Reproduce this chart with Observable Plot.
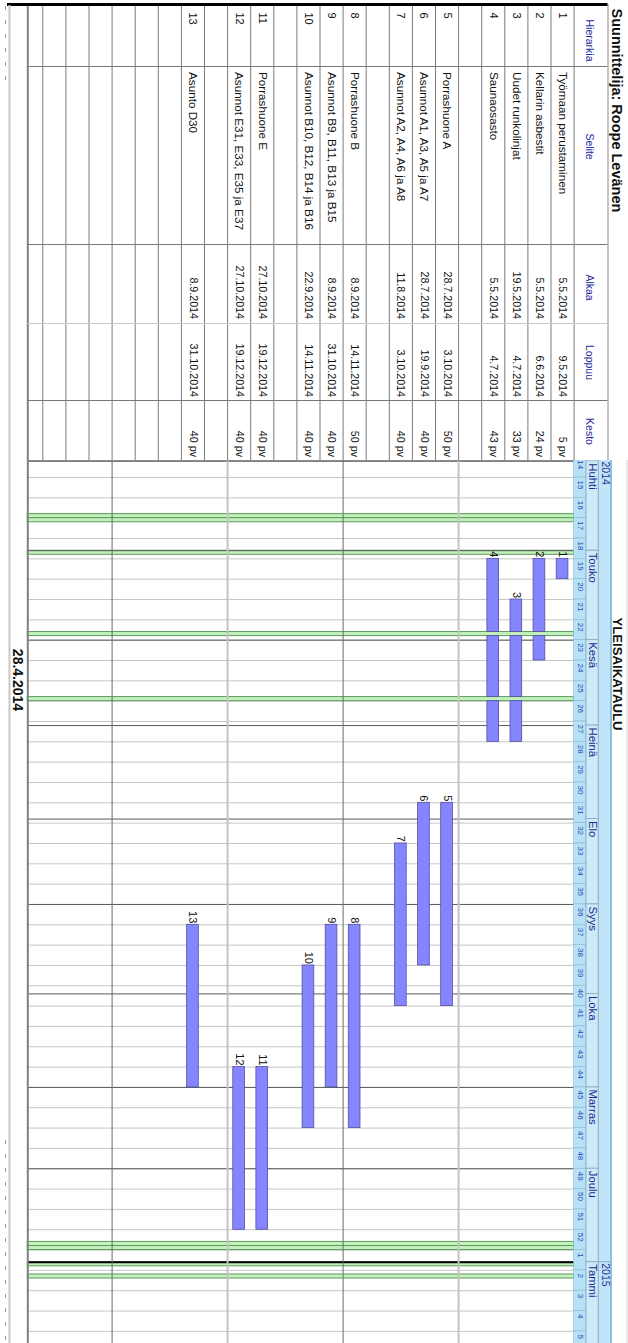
<!DOCTYPE html>
<html><head><meta charset="utf-8">
<script src="https://cdn.jsdelivr.net/npm/d3@7"></script>
<script src="https://cdn.jsdelivr.net/npm/@observablehq/plot@0.6"></script>
<style>
html,body{margin:0;padding:0;background:#fff;}
#page{position:relative;width:628px;height:1343px;overflow:hidden;background:#fff;}
#page svg{display:block;}
</style></head><body><div id="page"></div>
<script>
// ---------- data ----------
const hierarchy = ["1","2","3","4","5","6","7","8","9","10","11","12","13"];
const descriptions = ["Työmaan perustaminen","Kellarin asbestit","Uudet runkolinjat","Saunaosasto",
  "Porrashuone A","Asunnot A1, A3, A5 ja A7","Asunnot A2, A4, A6 ja A8",
  "Porrashuone B","Asunnot B9, B11, B13 ja B15","Asunnot B10, B12, B14 ja B16",
  "Porrashuone E","Asunnot E31, E33, E35 ja E37","Asunto D30"];
const startDates = ["5.5.2014","5.5.2014","19.5.2014","5.5.2014","28.7.2014","28.7.2014","11.8.2014",
  "8.9.2014","8.9.2014","22.9.2014","27.10.2014","27.10.2014","8.9.2014"];
const endDates = ["9.5.2014","6.6.2014","4.7.2014","4.7.2014","3.10.2014","19.9.2014","3.10.2014",
  "14.11.2014","31.10.2014","14.11.2014","19.12.2014","19.12.2014","31.10.2014"];
const durations = [5,24,33,43,50,40,40,50,40,40,40,40,40];
const rowLayout = ["1","2","3","4",null,"5","6","7",null,"8","9","10",null,"11","12",null,"13"];
const holidays = ["18.4.2014","21.4.2014","1.5.2014","29.5.2014","20.6.2014","25.12.2014","26.12.2014","1.1.2015","6.1.2015"];
const weekLabels = ["14","15","16","17","18","19","20","21","22","23","24","25","26","27","28","29","30",
  "31","32","33","34","35","36","37","38","39","40","41","42","43","44","45","46","47","48","49","50",
  "51","52","1","2","3","4","5"];
const monthNames = ["Huhti","Touko","Kesä","Heinä","Elo","Syys","Loka","Marras","Joulu","Tammi"];
const monthStarts = ["1.4.2014","1.5.2014","1.6.2014","1.7.2014","1.8.2014","1.9.2014","1.10.2014",
  "1.11.2014","1.12.2014","1.1.2015"];
const yearLabels = ["2014","2015"];
const yearStarts = ["1.1.2014","1.1.2015"];
const columnHeaders = ["Hierarkia","Selite","Alkaa","Loppuu","Kesto"];
const designer = "Suunnittelija: Roope Levänen";
const chartTitle = "YLEISAIKATAULU";
const printDate = "28.4.2014";
const timelineStart = "31.3.2014";

// ---------- working-day time axis ----------
const DAY = 864e5;
const parse = s => { const [d, m, y] = s.split(".").map(Number); return Date.UTC(y, m - 1, d); };
const T0 = parse(timelineStart);
const wd = s => { const days = Math.round((parse(s) - T0) / DAY); const w = Math.floor(days / 7); return w * 5 + Math.min(days - 7 * w, 5); };

// ---------- layout ----------
const W = 628, H = 1343, TABLE_H = 460;
const ROW0 = 573.6, ROWH = 23.1;
const rowOf = px => (ROW0 - px) / ROWH;
const LEFT = rowOf(27.3);
const HEAD_TOP = rowOf(607.5);
const HDR = [0, rowOf(586), rowOf(598.3), rowOf(610.7)];
const T0PX = 456.7, DAYPX = 20.33 / 5;
const topWd = (TABLE_H - T0PX) / DAYPX;
const xScale = {domain: [0, 1], range: [ROW0, ROW0 - ROWH], axis: null};
const FONT = "'Liberation Sans', Arial, Helvetica, sans-serif";
const style = {background: "white", fontFamily: FONT, overflow: "hidden"};

// ---------- derived ----------
const tasks = hierarchy.map((h, k) => ({
  id: h, desc: descriptions[k], start: startDates[k], end: endDates[k], dur: durations[k] + " pv",
  slot: rowLayout.indexOf(h), s: wd(startDates[k]), e: wd(endDates[k]) + 1
}));
const holidayWd = holidays.map(wd);
const segments = [];
for (const t of tasks) {
  let a = t.s;
  for (let d = t.s; d < t.e; d++) {
    if (holidayWd.includes(d)) { if (d > a) segments.push({slot: t.slot, y1: a, y2: d}); a = d + 1; }
  }
  if (t.e > a) segments.push({slot: t.slot, y1: a, y2: t.e});
}
const END = 5 * weekLabels.length;
const weeks = weekLabels.map((w, k) => ({label: w, y1: 5 * k, y2: 5 * k + 5}));
const months = monthNames.map((m, k) => ({label: m, y1: wd(monthStarts[k]), y2: k + 1 < monthNames.length ? wd(monthStarts[k + 1]) : END}));
const years = yearLabels.map((m, k) => ({label: m, y1: wd(yearStarts[k]), y2: k + 1 < yearLabels.length ? wd(yearStarts[k + 1]) : END}));

const rot = {rotate: 90, lineAnchor: "middle"};

// ---------- table ----------
const COLS = [66, 244, 323, 400];
const COL_CENTERS = [40, 146, 287, 362, 431];
const table = Plot.plot({
  width: W, height: TABLE_H, margin: 0, style,
  x: xScale,
  y: {domain: [0, TABLE_H], range: [0, TABLE_H], axis: null},
  marks: [
    Plot.ruleX(d3.range(0, 24), {y1: 4, y2: TABLE_H, stroke: "#7b7b7b"}),
    Plot.ruleX([HEAD_TOP], {y1: 4, y2: TABLE_H, stroke: "#8a8a8a"}),
    Plot.ruleX([LEFT], {y1: 4, y2: TABLE_H, stroke: "#808080", strokeWidth: 2}),
    Plot.ruleY([COLS[0], COLS[1], COLS[3]], {x1: LEFT, x2: HEAD_TOP, stroke: "#777"}),
    Plot.ruleY([COLS[2]], {x1: LEFT, x2: HEAD_TOP, stroke: "#c8c8c8"}),
    Plot.ruleY([4], {x1: rowOf(7), x2: HEAD_TOP, stroke: "#000", strokeWidth: 3}),
    Plot.text([designer], {x: rowOf(616), y: 8, text: d => d, ...rot, textAnchor: "start", fontSize: 14.5, fontWeight: "bold", fill: "#111"}),
    Plot.text(columnHeaders, {x: rowOf(589), y: (d, i) => COL_CENTERS[i], text: d => d, ...rot, textAnchor: "middle", fontSize: 10.5, fill: "#1e2a9e"}),
    Plot.text(tasks, {x: d => d.slot + 0.5, y: 12, text: "id", ...rot, textAnchor: "start", fontSize: 11, fill: "#111"}),
    Plot.text(tasks, {x: d => d.slot + 0.5, y: 71.5, text: "desc", ...rot, textAnchor: "start", fontSize: 11.7, fill: "#111"}),
    Plot.text(tasks, {x: d => d.slot + 0.5, y: 318.5, text: "start", ...rot, textAnchor: "end", fontSize: 10.7, fill: "#111"}),
    Plot.text(tasks, {x: d => d.slot + 0.5, y: 396.5, text: "end", ...rot, textAnchor: "end", fontSize: 10.7, fill: "#111"}),
    Plot.text(tasks, {x: d => d.slot + 0.5, y: 456.5, text: "dur", ...rot, textAnchor: "end", fontSize: 10.7, fill: "#111"})
  ]
});

// ---------- chart ----------
const chart = Plot.plot({
  width: W, height: H - TABLE_H, margin: 0, style,
  x: xScale,
  y: {domain: [0, 1], range: [T0PX - TABLE_H, T0PX - TABLE_H + DAYPX], axis: null},
  marks: [
    Plot.ruleY(weeks, {y: "y1", x1: 0, x2: LEFT, stroke: "#c6c6c6"}),
    Plot.rect(holidayWd, {x1: 0, x2: LEFT, y1: d => d, y2: d => d + 1, fill: "#c3f1bb", stroke: "#5e9a5e", strokeWidth: 1}),
    Plot.ruleY(months, {y: "y1", x1: 0, x2: LEFT, stroke: "#5a5a5a"}),
    Plot.ruleY(years.slice(1), {y: "y1", x1: 0, x2: LEFT, stroke: "#000", strokeWidth: 2}),
    Plot.ruleX([5, 15], {y1: 0, y2: END, stroke: "#c4c4c4", strokeWidth: 2}),
    Plot.ruleX([10, 20], {y1: 0, y2: END, stroke: "#6a6a6a", strokeWidth: 1}),
    Plot.ruleX([LEFT], {y1: 0, y2: END, stroke: "#808080", strokeWidth: 2}),
    Plot.ruleY([topWd], {x1: 0, x2: LEFT, stroke: "#8a8a8a"}),
    Plot.rect(segments, {x1: "slot", x2: d => d.slot + 1, y1: "y1", y2: "y2", insetLeft: 5.7, insetRight: 5.7, fill: "#8585ff", stroke: "#50509e", strokeWidth: 0.8}),
    Plot.text(tasks, {x: d => d.slot + 0.5, y: "s", text: "id", ...rot, textAnchor: "end", dy: -1.5, fontSize: 11, fill: "#111"}),
    // timeline header
    Plot.rect(weeks, {x1: HDR[0], x2: HDR[1], y1: "y1", y2: "y2", fill: "#b6e1f7", stroke: "#8db9d2", strokeWidth: 0.6}),
    Plot.text(weeks, {x: (HDR[0] + HDR[1]) / 2, y: "y1", text: "label", ...rot, textAnchor: "start", dy: 3, fontSize: 8, fill: "#2f45b5"}),
    Plot.rect(months, {x1: HDR[1], x2: HDR[2], y1: "y1", y2: "y2", fill: "#cbeafa", stroke: "#8ea6b8", strokeWidth: 0.8}),
    Plot.text(months, {x: (HDR[1] + HDR[2]) / 2, y: d => Math.max(d.y1, topWd), text: "label", ...rot, textAnchor: "start", dy: 2, fontSize: 11.3, fill: "#1f2a8c"}),
    Plot.rect(years, {x1: HDR[2], x2: HDR[3], y1: "y1", y2: "y2", fill: "#c0e5f9", stroke: "#8ea6b8", strokeWidth: 0.8}),
    Plot.text(years, {x: (HDR[2] + HDR[3]) / 2, y: d => Math.max(d.y1, topWd), text: "label", ...rot, textAnchor: "start", dy: 1, fontSize: 10.5, fill: "#1f2a8c"}),
    Plot.ruleX([HDR[3]], {y1: 0, y2: END, stroke: "#7fc1e6", strokeWidth: 1.5})
  ]
});

const page = document.getElementById("page");
page.appendChild(table);
page.appendChild(chart);

// decorations: page borders, titles
const addLine = (svg, x1, y1, x2, y2, stroke, w, dash) => {
  const l = d3.select(svg).append("line").attr("x1", x1).attr("y1", y1).attr("x2", x2).attr("y2", y2)
    .attr("stroke", stroke).attr("stroke-width", w);
  if (dash) l.attr("stroke-dasharray", dash);
};
addLine(table, 9.5, 5, 9.5, TABLE_H, "#c8c8c8", 2);
addLine(chart, 9.5, 0, 9.5, H - TABLE_H, "#c8c8c8", 2);
addLine(chart, 627, 0, 627, H - TABLE_H, "#d4d4d4", 1);
addLine(table, 5.5, 6, 5.5, 80, "#9a9a9a", 1, "4,10");
addLine(chart, 5.5, 680, 5.5, H - TABLE_H, "#9a9a9a", 1, "4,10");
const addText = (svg, x, y, txt, size) => d3.select(svg).append("text")
  .attr("transform", `translate(${x},${y}) rotate(90)`).attr("text-anchor", "middle").attr("dy", "0.35em")
  .attr("font-family", FONT).attr("font-size", size).attr("font-weight", "bold").attr("fill", "#111").text(txt);
addText(chart, 618, 674 - TABLE_H, chartTitle, 13.2);
addText(chart, 17.5, 680 - TABLE_H, printDate, 14);
</script></body></html>
